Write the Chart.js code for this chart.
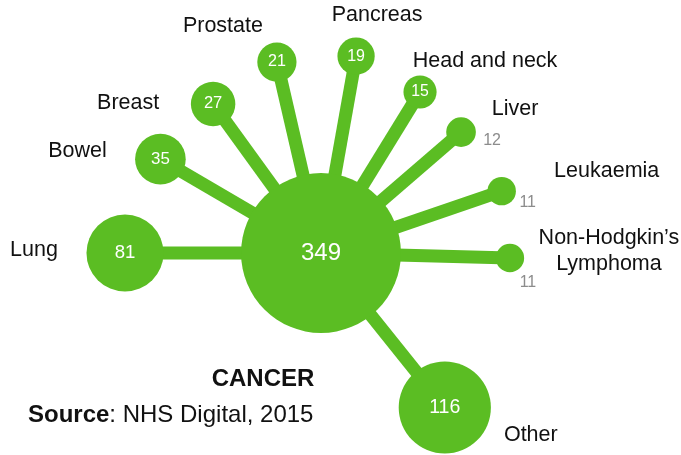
<!DOCTYPE html>
<html>
<head>
<meta charset="utf-8">
<title>Cancer</title>
<script src="https://cdn.jsdelivr.net/npm/chart.js@4/dist/chart.umd.min.js"></script>
<style>
	html, body { margin: 0; padding: 0; background: #fff; }
	#chart { display: block; }
</style>
</head>
<body>
<canvas id="chart" width="681" height="455"></canvas>
<script>
const hubLabel = "CANCER";
const hubValue = 349;
const categories = ["Lung", "Bowel", "Breast", "Prostate", "Pancreas", "Head and neck", "Liver", "Leukaemia", ["Non-Hodgkin’s", "Lymphoma"], "Other"];
const values = [81, 35, 27, 21, 19, 15, 12, 11, 11, 116];
const sourceBold = "Source";
const sourceText = ": NHS Digital, 2015";

// layout only: hub position, spoke direction (deg, ccw from east) and length, in px
const hub = { x: 321, y: 253 };
const spokeAngles = [180, 149.7, 125.9, 103, 79.9, 58.4, 40.8, 18.9, -1.5, -51.3];
const spokeLengths = [196, 186, 184, 196, 200, 189, 185, 191, 189, 198];
const labelOffsets = [[-91, -3], [-83, -8], [-85, -1], [-54, -36], [21, -41], [65, -31], [54, -23], [105, -20], [99, -7], [86, 28]];
const outsideValueOffsets = [null, null, null, null, null, null, [31, 8], [26, 11], [18, 25], null];

const GREEN = "#5bbd23";
const FONT = "'Liberation Sans', Arial, Helvetica, sans-serif";
const RADIUS_SCALE = 4.28;
const W = 681;
const H = 455;

const radiusFor = (v) => RADIUS_SCALE * Math.sqrt(v);

const spokeEnds = values.map((v, i) => {
	const a = (spokeAngles[i] * Math.PI) / 180;
	return {
		x: hub.x + spokeLengths[i] * Math.cos(a),
		y: hub.y - spokeLengths[i] * Math.sin(a),
		r: radiusFor(v),
	};
});

const bubbleData = [{ x: hub.x, y: hub.y, r: radiusFor(hubValue) }, ...spokeEnds];
const bubbleValues = [hubValue, ...values];

const spokeDatasets = spokeEnds.map((end) => ({
	type: "scatter",
	data: [{ x: hub.x, y: hub.y }, { x: end.x, y: end.y }],
	showLine: true,
	borderColor: GREEN,
	borderWidth: 13,
	borderCapStyle: "butt",
	pointRadius: 0,
	pointHoverRadius: 0,
	fill: false,
	clip: false,
	order: 1,
}));

const labelPlugin = {
	id: "spokeLabels",
	afterDatasetsDraw(chart) {
		const { ctx } = chart;
		const points = chart.getDatasetMeta(0).data;

		ctx.save();
		ctx.textAlign = "center";
		ctx.textBaseline = "middle";

		// values
		points.forEach((p, i) => {
			const v = bubbleValues[i];
			const off = i > 0 ? outsideValueOffsets[i - 1] : null;
			if (off) {
				ctx.fillStyle = "#8c8c8c";
				ctx.font = `16px ${FONT}`;
				ctx.fillText(String(v), p.x + off[0], p.y + off[1]);
			} else {
				ctx.fillStyle = "#ffffff";
				ctx.font = `${(13.6 + 0.556 * Math.sqrt(v)).toFixed(1)}px ${FONT}`;
				ctx.fillText(String(v), p.x, p.y);
			}
		});

		// category names
		ctx.fillStyle = "#111111";
		ctx.font = `21.5px ${FONT}`;
		categories.forEach((label, i) => {
			const p = points[i + 1];
			const lines = Array.isArray(label) ? label : [label];
			const x = p.x + labelOffsets[i][0];
			const y0 = p.y + labelOffsets[i][1] - ((lines.length - 1) * 26) / 2;
			lines.forEach((line, j) => ctx.fillText(line, x, y0 + j * 26));
		});

		// title and source
		ctx.font = `bold 24px ${FONT}`;
		ctx.fillText(hubLabel, 263, 379);

		ctx.textAlign = "left";
		ctx.font = `bold 24px ${FONT}`;
		ctx.fillText(sourceBold, 28, 415);
		const w = ctx.measureText(sourceBold).width;
		ctx.font = `24px ${FONT}`;
		ctx.fillText(sourceText, 28 + w, 415);

		ctx.restore();
	},
};

new Chart(document.getElementById("chart"), {
	type: "bubble",
	data: {
		datasets: [
			{
				data: bubbleData,
				backgroundColor: GREEN,
				borderWidth: 0,
				hoverBorderWidth: 0,
				clip: false,
				order: 0,
			},
			...spokeDatasets,
		],
	},
	options: {
		responsive: false,
		animation: false,
		events: [],
		layout: { padding: 0, autoPadding: false },
		plugins: {
			legend: { display: false },
			tooltip: { enabled: false },
		},
		scales: {
			x: { type: "linear", min: 0, max: W, display: false },
			y: { type: "linear", min: 0, max: H, reverse: true, display: false },
		},
	},
	plugins: [labelPlugin],
});
</script>
</body>
</html>
